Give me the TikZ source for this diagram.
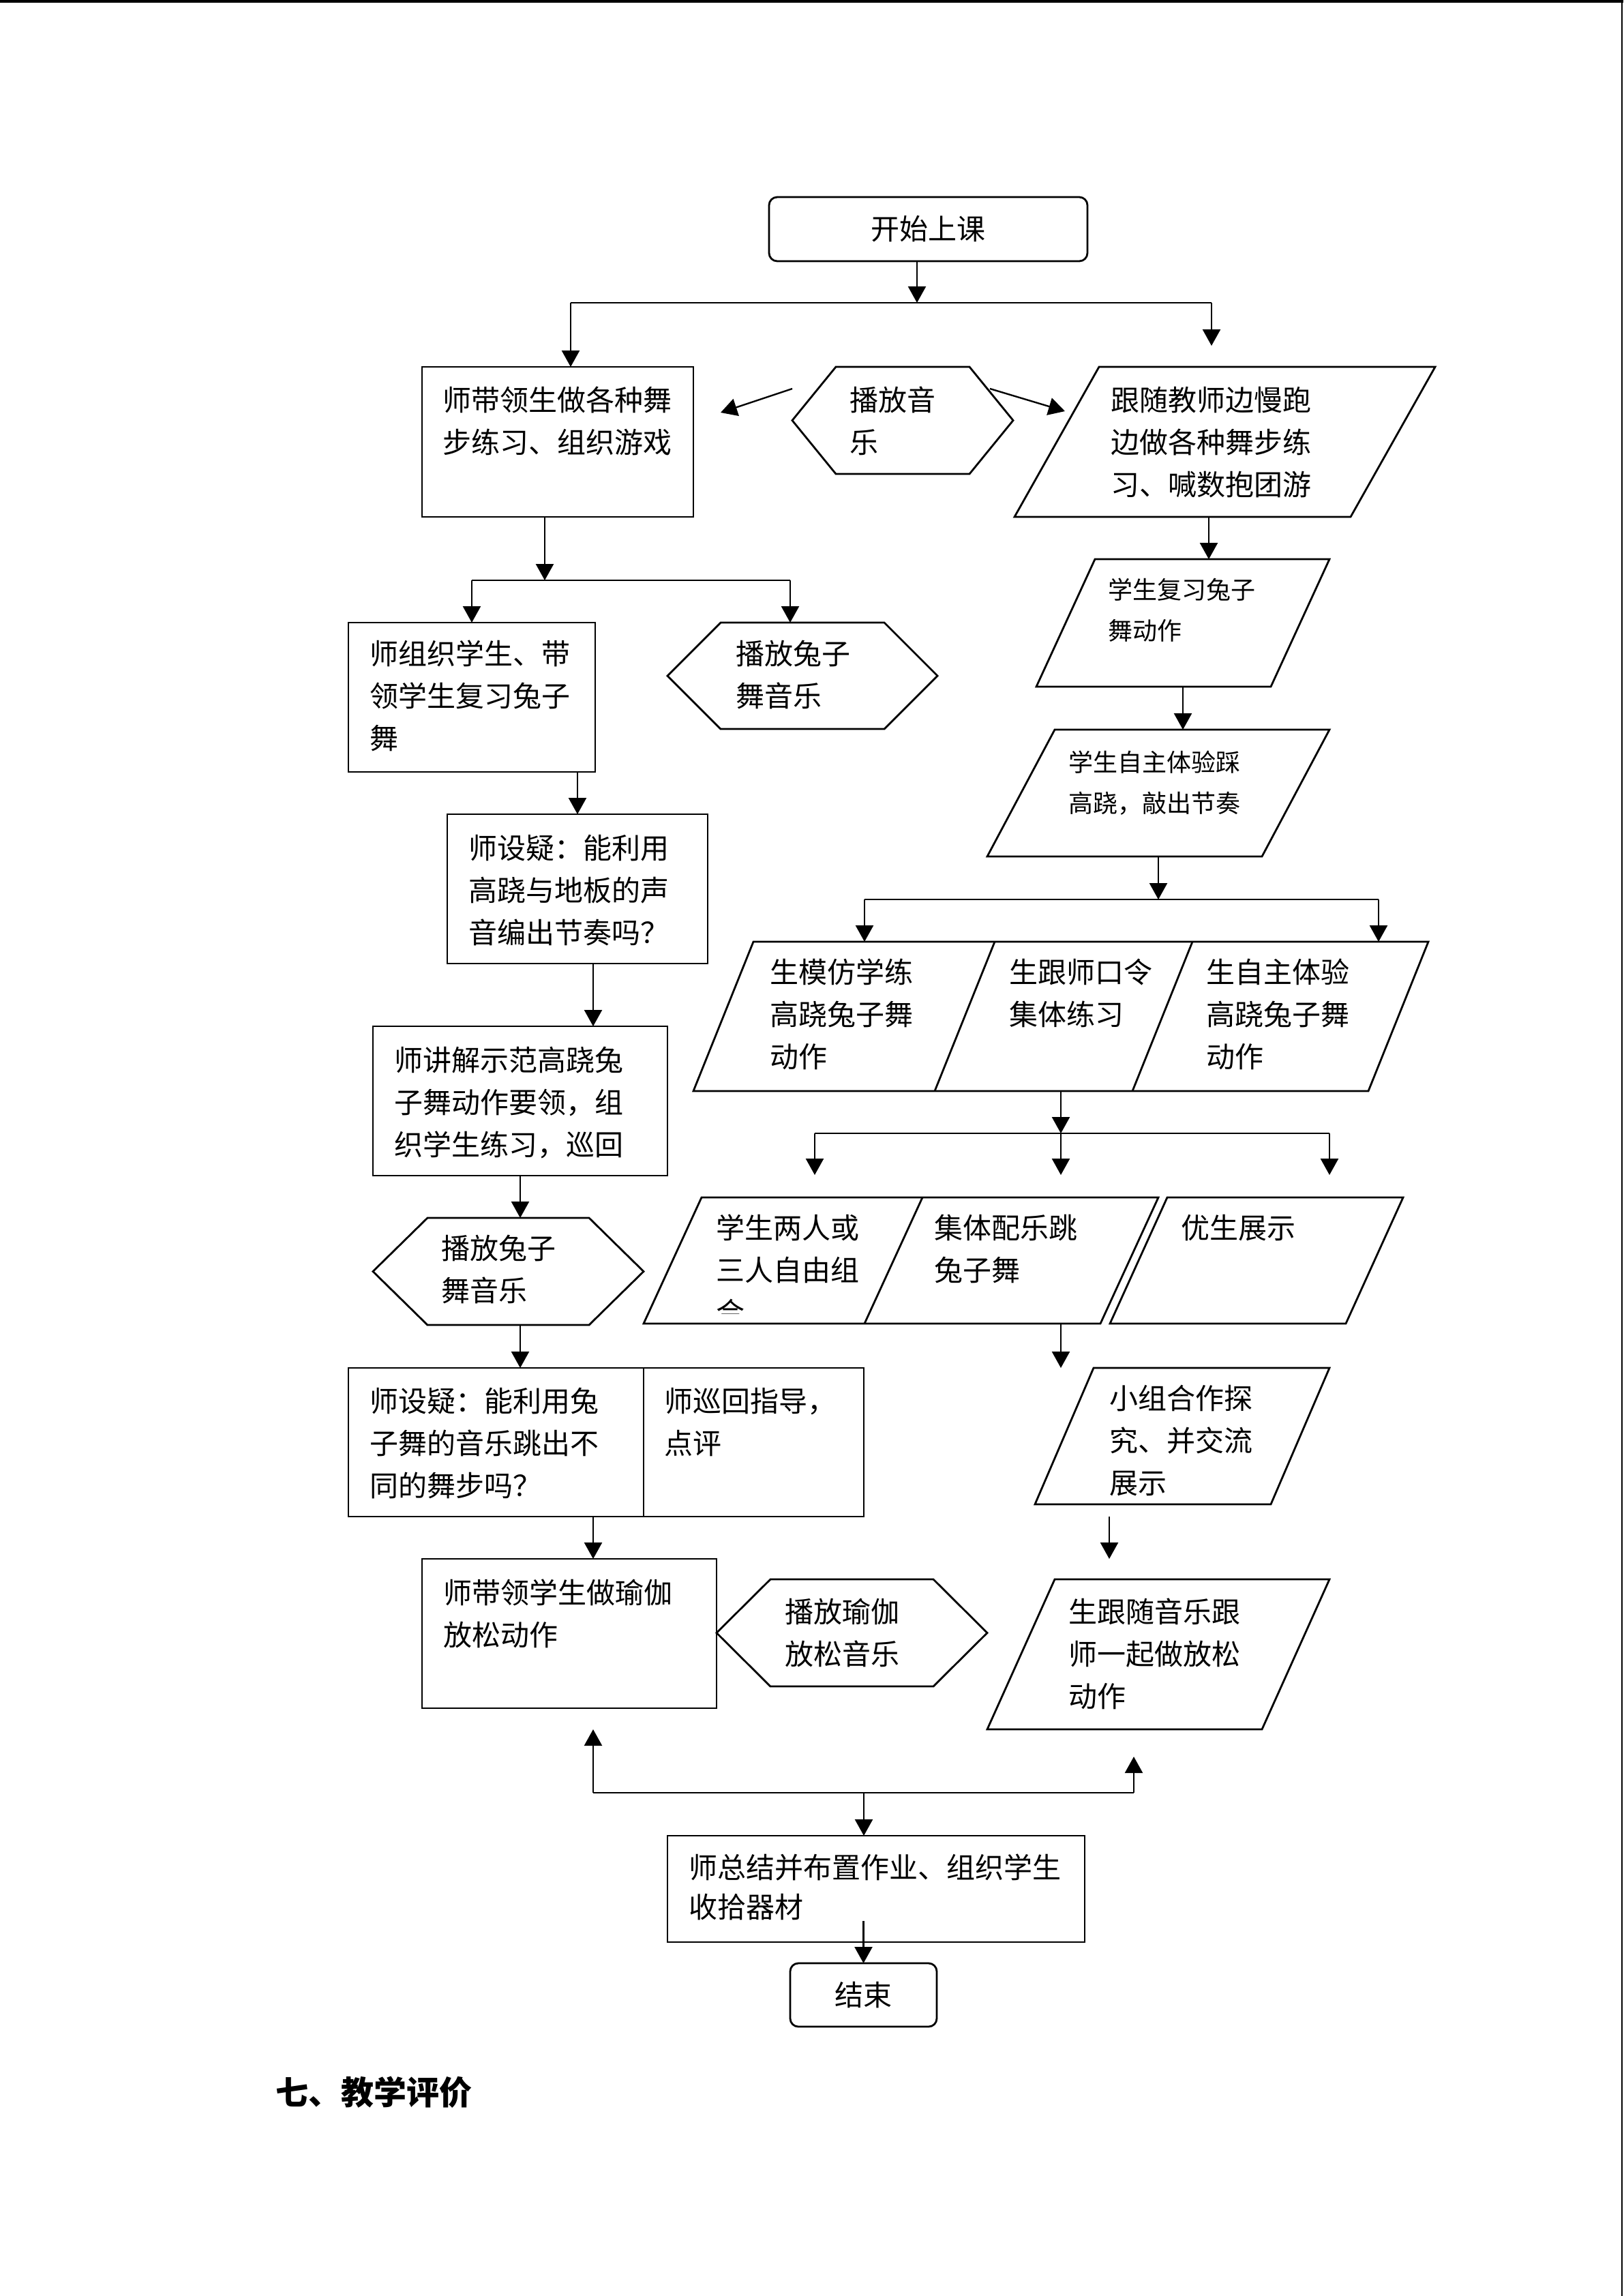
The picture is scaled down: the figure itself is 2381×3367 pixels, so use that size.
\documentclass[tikz,border=0pt]{standalone}
\usepackage{fontspec}
\setmainfont{Noto Sans CJK SC}
\usetikzlibrary{arrows.meta}

\tikzset{
  box/.style={draw, line width=0.7pt, inner sep=0pt, outer sep=0pt, anchor=north west,
    font=\fontsize{10.5pt}{15.5pt}\selectfont},
  rbox/.style={box, rounded corners=3pt},
  frame/.style={inner sep=0pt, outer sep=0pt, anchor=north west},
  txt/.style={anchor=north west, inner sep=0pt, align=left, yshift=1pt,
    font=\fontsize{10.5pt}{15.5pt}\selectfont},
  smalltxt/.style={txt, font=\fontsize{9pt}{15pt}\selectfont},
  arr/.style={-{Triangle[length=6pt,width=6.5pt]}, line width=0.6pt},
  link/.style={line width=0.6pt},
}
% outlines drawn on frame nodes
\newcommand{\paraline}[2]{\draw[line width=0.7pt] ([xshift=#2]#1.north west) -- (#1.north east)
  -- ([xshift=-#2]#1.south east) -- (#1.south west) -- cycle;}
\newcommand{\hexline}[2]{\draw[line width=0.7pt] (#1.west) -- ([xshift=#2]#1.north west)
  -- ([xshift=-#2]#1.north east) -- (#1.east) -- ([xshift=-#2]#1.south east)
  -- ([xshift=#2]#1.south west) -- cycle;}

\begin{document}
\begin{tikzpicture}[x=0.25pt, y=-0.25pt]
\useasboundingbox (0,0) rectangle (2381,3367);
\draw[line width=1pt] (0,2) -- (2381,2);
\draw[line width=0.6pt] (2379,0) -- (2379,3367);

% start
\node[rbox, minimum width=116.75pt, minimum height=23.5pt] (start) at (1128,289) {开始上课};

% first row
\node[box, minimum width=99.5pt, minimum height=55pt] (lead) at (619,538) {};
\node[txt] (leadT) at (649,570) {师带领生做各种舞\\步练习、组织游戏};
\node[frame, minimum width=81pt, minimum height=39.25pt] (music1) at (1162,538) {};
\hexline{music1}{16pt}
\node[txt] (music1T) at (1246,570) {播放音\\乐};
\node[frame, minimum width=154.25pt, minimum height=55pt] (run) at (1488,538) {};
\paraline{run}{31pt}
\node[txt] (runT) at (1629,570) {跟随教师边慢跑\\边做各种舞步练\\习、喊数抱团游};

\coordinate (j1) at (1345,444);
\coordinate (j1l) at (837,444);
\coordinate (j1r) at (1777,444);
\coordinate (runIn) at (1777,507);
\draw[arr] (start.south -| j1) -- (j1);
\draw[link] (j1l) -- (j1r);
\draw[arr] (j1l) -- (j1l |- lead.north);
\draw[arr] (j1r) -- (runIn);
\coordinate (m1a) at (1162,570);
\coordinate (m1b) at (1057,605);
\coordinate (m1c) at (1452,570);
\coordinate (m1d) at (1562,603);
\draw[arr] (m1a) -- (m1b);
\draw[arr] (m1c) -- (m1d);

% left column
\node[box, minimum width=90.5pt, minimum height=54.75pt] (review) at (511,913) {};
\node[txt] (reviewT) at (542,942) {师组织学生、带\\领学生复习兔子\\舞};
\node[frame, minimum width=99pt, minimum height=39pt] (music2) at (979,913) {};
\hexline{music2}{19.5pt}
\node[txt] (music2T) at (1079,942) {播放兔子\\舞音乐};
\node[box, minimum width=95.5pt, minimum height=54.75pt] (ask1) at (656,1194) {};
\node[txt] (ask1T) at (687,1227) {师设疑：能利用\\高跷与地板的声\\音编出节奏吗？};
\node[box, minimum width=108pt, minimum height=54.75pt] (demo) at (547,1505) {};
\node[txt] (demoT) at (578,1538) {师讲解示范高跷兔\\子舞动作要领，组\\织学生练习，巡回};
\node[frame, minimum width=99.25pt, minimum height=39.25pt] (music3) at (547,1786) {};
\hexline{music3}{20pt}
\node[txt] (music3T) at (647,1814) {播放兔子\\舞音乐};
\node[box, minimum width=189pt, minimum height=54.5pt] (ask2) at (511,2006) {};
\draw[line width=0.7pt] ([xshift=108.25pt]ask2.north west) -- ([xshift=108.25pt]ask2.south west);
\node[txt] (ask2T) at (542,2038) {师设疑：能利用兔\\子舞的音乐跳出不\\同的舞步吗？};
\node[txt] (guideT) at (974,2038) {师巡回指导，\\点评};
\node[box, minimum width=108pt, minimum height=54.75pt] (yoga) at (619,2286) {};
\node[txt] (yogaT) at (650,2319) {师带领学生做瑜伽\\放松动作};
\node[frame, minimum width=99.25pt, minimum height=39.25pt] (music4) at (1051,2316) {};
\hexline{music4}{19.75pt}
\node[txt] (music4T) at (1151,2347) {播放瑜伽\\放松音乐};

\coordinate (j2) at (799,851);
\coordinate (j2l) at (692,851);
\coordinate (j2r) at (1159,851);
\draw[arr] (lead.south -| j2) -- (j2);
\draw[link] (j2l) -- (j2r);
\draw[arr] (j2l) -- (j2l |- review.north);
\draw[arr] (j2r) -- (j2r |- music2.north);
\draw[arr] (review.south -| ask1.north) -- (ask1.north);
\draw[arr] ([xshift=5.75pt]ask1.south) -- ([xshift=5.75pt]ask1.south |- demo.north);
\draw[arr] (demo.south) -- (demo.south |- music3.north);
\draw[arr] (music3.south -| demo.south) -- (demo.south |- ask2.north);
\draw[arr] ([xshift=5.75pt]ask1.south |- ask2.south) -- ([xshift=5.75pt]ask1.south |- yoga.north);

% right column
\node[frame, minimum width=107.5pt, minimum height=46.75pt] (recall) at (1520,820) {};
\paraline{recall}{21.5pt}
\node[smalltxt] (recallT) at (1625,851) {学生复习兔子\\舞动作};
\node[frame, minimum width=125.5pt, minimum height=46.5pt] (stilt) at (1448,1070) {};
\paraline{stilt}{24.75pt}
\node[smalltxt] (stiltT) at (1567,1104) {学生自主体验踩\\高跷，敲出节奏};
\node[frame, minimum width=269.5pt, minimum height=54.75pt] (practice) at (1017,1381) {};
\paraline{practice}{22pt}
\draw[line width=0.7pt] ([xshift=110.5pt]practice.north west) -- ([xshift=88.5pt]practice.south west);
\draw[line width=0.7pt] ([xshift=183pt]practice.north west) -- ([xshift=161pt]practice.south west);
\node[txt] (practiceT1) at (1129,1409) {生模仿学练\\高跷兔子舞\\动作};
\node[txt] (practiceT2) at (1480,1409) {生跟师口令\\集体练习};
\node[txt] (practiceT3) at (1769,1409) {生自主体验\\高跷兔子舞\\动作};
\node[frame, minimum width=188.75pt, minimum height=46.25pt] (group) at (944,1756) {};
\paraline{group}{21.25pt}
\draw[line width=0.7pt] ([xshift=102.25pt]group.north west) -- ([xshift=81pt]group.south west);
\begin{scope}
\clip (944,1756) rectangle (1353,1926);
\node[txt] (groupT1) at (1050,1784) {学生两人或\\三人自由组\\合};
\end{scope}
\node[txt] (groupT2) at (1370,1784) {集体配乐跳\\兔子舞};
\node[frame, minimum width=107.5pt, minimum height=46.25pt] (show) at (1628,1756) {};
\paraline{show}{21pt}
\node[txt] (showT) at (1732,1784) {优生展示};
\node[frame, minimum width=108pt, minimum height=50pt] (explore) at (1518,2006) {};
\paraline{explore}{21.5pt}
\node[txt] (exploreT) at (1627,2034) {小组合作探\\究、并交流\\展示};
\node[frame, minimum width=125.5pt, minimum height=55pt] (relax) at (1448,2316) {};
\paraline{relax}{24.75pt}
\node[txt] (relaxT) at (1567,2347) {生跟随音乐跟\\师一起做放松\\动作};

\coordinate (bx) at (1773,0);
\draw[arr] (run.south -| bx) -- (recall.north -| bx);
\draw[arr] (recall.south) -- (recall.south |- stilt.north);
\coordinate (j3) at (1699,1319);
\coordinate (j3l) at (1268,1319);
\coordinate (j3r) at (2022,1319);
\draw[arr] (stilt.south) -- (j3);
\draw[link] (j3l) -- (j3r);
\draw[arr] (j3l) -- (j3l |- practice.north);
\draw[arr] (j3r) -- (j3r |- practice.north);
\coordinate (j4) at (1556,1662);
\coordinate (j4l) at (1195,1662);
\coordinate (j4r) at (1950,1662);
\coordinate (k1) at (1195,1723);
\coordinate (k2) at (1556,1723);
\coordinate (k3) at (1950,1723);
\draw[arr] (practice.south) -- (j4);
\draw[link] (j4l) -- (j4r);
\draw[arr] (j4l) -- (k1);
\draw[arr] (j4) -- (k2);
\draw[arr] (j4r) -- (k3);
\draw[arr] (group.south -| practice.south) -- (practice.south |- explore.north);
\coordinate (i1) at (1627,2224);
\coordinate (i2) at (1627,2286);
\draw[arr] (i1) -- (i2);

% bottom
\node[box, minimum width=153pt, minimum height=39pt] (sum) at (979,2692) {};
\node[txt, font=\fontsize{10.5pt}{14.5pt}\selectfont] (sumT) at (1010,2722) {师总结并布置作业、组织学生\\收拾器材};
\node[rbox, minimum width=53.75pt, minimum height=23.25pt] (finish) at (1159,2879) {结束};
\coordinate (jb) at (1267,2629);
\coordinate (jbl) at (870,2629);
\coordinate (jbr) at (1663,2629);
\coordinate (u1) at (870,2536);
\coordinate (u2) at (1663,2576);
\draw[link] (jbl) -- (jbr);
\draw[arr] (jbl) -- (u1);
\draw[arr] (jbr) -- (u2);
\draw[arr] (jb) -- (jb |- sum.north);
\draw[arr] ([yshift=7.75pt]sum.south -| finish.north) -- (finish.north);

\node[anchor=west, inner sep=0pt, font=\fontsize{12pt}{14pt}\selectfont\bfseries] (title) at (404,3068) {七、教学评价};
\end{tikzpicture}
\end{document}
